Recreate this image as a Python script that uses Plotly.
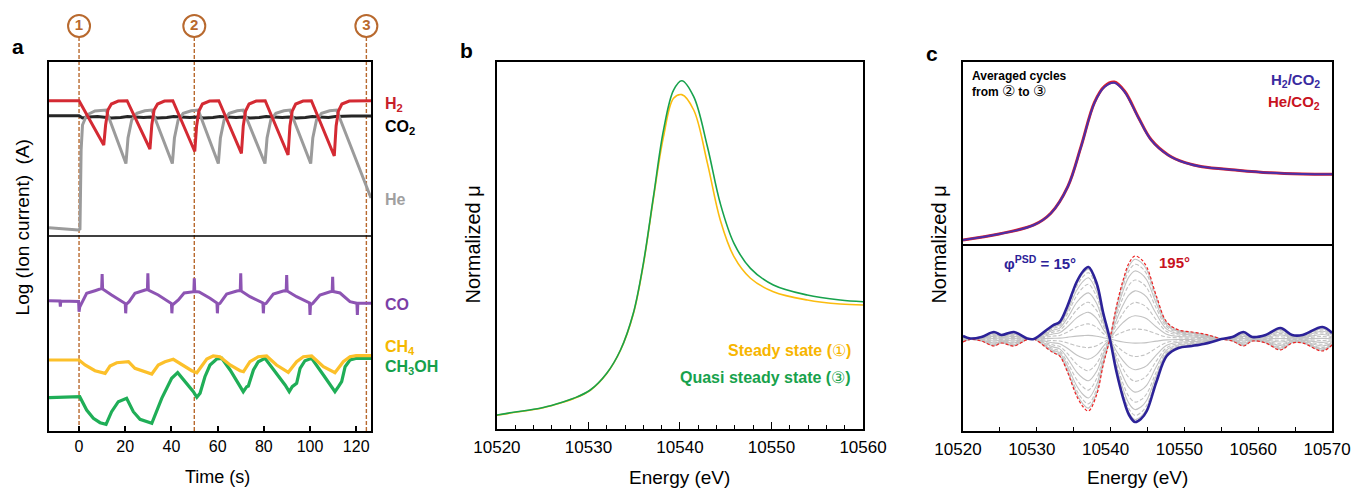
import plotly.graph_objects as go

FONT = "Arial, Liberation Sans, sans-serif"

# ---------------- panel a: ion currents (log scale, arbitrary offsets) ----------------
time_ticks = [0, 20, 40, 60, 80, 100, 120]
marker_times = [0, 49.9, 124.4]
marker_labels = ["1", "2", "3"]

h2_t = [-13, 0, 10.7, 11.5, 12.5, 14, 17, 20.8, 30.7, 31.5, 32.5, 34, 37, 40.6, 50.1, 50.9, 51.9,
        53.4, 56.5, 60.5, 70.3, 71.1, 72.1, 73.6, 76.7, 80.6, 90.5, 91.3, 92.3, 93.8, 97, 100.6,
        110.5, 111.3, 112.3, 113.8, 117, 126.4]
h2_v = [330.3, 330.3, 286, 306, 321, 327, 330, 330.3, 282, 306, 321, 327, 330, 330.3, 279.5, 305, 320,
        327, 330, 330.3, 277.7, 305, 320, 327, 330, 330.3, 276, 305, 320, 327, 330, 330.3,
        275, 305, 320, 327, 330, 330.3]

co2_t = [-13, 0, 1.5, 4, 8, 11, 14, 18, 21, 24, 28, 31, 34, 38, 41, 44, 48, 51, 54, 58, 61, 64, 68,
         71, 74, 78, 81, 84, 88, 91, 94, 98, 101, 104, 108, 111, 114, 118, 122, 126.4]
co2_v = [315.3, 315.3, 313, 314, 314.5, 314, 313, 313.5, 314.5, 314, 313.5, 314, 313, 313.5, 314.5,
         314, 313.5, 314, 313, 313.5, 314.5, 314, 313.5, 314, 313, 313.5, 314.5, 314, 313.5, 314,
         313, 313.5, 314.5, 314, 313.5, 314.5, 315, 315, 315, 315]

he_t = [-13, -0.3, 0.4, 0.9, 1.5, 3.3, 6.9, 11.7, 20.3, 21.2, 22.8, 25, 28.5, 31.5, 40.4, 41.3, 42.9,
        45.1, 48.6, 51.6, 60.3, 61.2, 62.8, 65, 68.5, 71.1, 80.5, 81.4, 83, 85.2, 88.7, 91.3,
        100.3, 101.2, 102.8, 105, 108.5, 111.5, 126.4]
he_v = [203.3, 201, 202, 281, 306, 316, 320, 321, 267.5, 293, 311, 317.7, 320.3, 321, 267.5, 293, 311,
        317.7, 320.3, 321, 267.5, 293, 311, 317.7, 320.3, 321, 267.5, 293, 311, 317.7, 320.3, 321,
        267.5, 293, 311, 317.7, 320.3, 321, 233]

co_t = [-13, -8.3, -8.1, -7.9, -0.2, 0, 0.3, 1.5, 3.3, 6.9, 9.8, 10, 10.2, 14.1, 18.5, 20, 20.2, 20.4,
        21.7, 24.2, 28.6, 29.6, 29.8, 30, 34.3, 38.7, 40, 40.2, 40.4, 43, 45.5, 49.7, 49.9, 50.1,
        52, 56.7, 58.9, 59.7, 59.9, 60.1, 61, 63.9, 68.3, 69.8, 70, 70.2, 74, 78.4, 79.6, 79.8, 80,
        81, 84.1, 88.4, 89.7, 89.9, 90.1, 94.2, 98.5, 99.8, 100, 100.2, 101.2, 104.3, 108.7, 109.6,
        109.8, 110, 113, 117.3, 120.3, 120.5, 120.7, 126.4]
co_v = [130.3, 130, 124.3, 130, 129.5, 119.3, 124, 130, 137.7, 140.3, 142.5, 157, 142, 136, 129.3,
        127.5, 117.7, 126.5, 129.3, 137.7, 141, 141.5, 157.7, 141, 136, 129.3, 127.5, 117.7, 126,
        131, 138, 139.3, 152.7, 139.5, 139, 132.7, 129.3, 128, 117.7, 126.5, 127.7, 137, 140, 140.5,
        157.7, 140, 134.3, 129.3, 128, 117.7, 126.5, 127.7, 137, 140, 140.5, 156, 140, 134.3, 129.3,
        128, 116, 126, 127.7, 136, 139.3, 139.5, 154.3, 139.5, 138, 129.3, 127.7, 116, 127.7, 127.7]

ch4_t = [-13, 0, 2.6, 6.9, 11.3, 13.4, 16.3, 21.4, 24.2, 28.6, 31.5, 34.3, 37.2, 40.8, 44.5, 48.8,
         51, 53.5, 55.3, 58.1, 61, 65.4, 69.7, 71.2, 74, 77.6, 81.2, 85.5, 90.6, 94.2, 97.1, 100.7,
         105.8, 110.8, 114.4, 117.3, 120, 126.4]
ch4_v = [71, 71, 66, 60.3, 57.7, 65, 68.3, 69.3, 62.7, 59.3, 57, 66, 69.3, 71.7, 66, 60.3,
         58.3, 66, 72, 75, 74.3, 66, 60.3, 59.3, 69.3, 74.3, 75, 66, 58.7, 69.3, 74.3, 75,
         64.3, 58.3, 69.3, 74.3, 75.3, 75.3]

ch3oh_t = [-13, 0.3, 3.3, 6.2, 9.1, 11.7, 14.1, 17, 20.6, 23.5, 26.4, 31.5, 35.8, 40.1, 42.7, 45.9,
           49.5, 51, 52.4, 54.5, 56.7, 59.6, 61.8, 65.4, 69, 71.1, 72.6, 73.3, 75.5, 77.6, 80.5,
           85.6, 89.2, 91, 92.3, 94.2, 95.7, 97.8, 100.7, 105.8, 109.4, 110.8, 112.3, 113.7, 115.2,
           117.3, 120.2, 126.4]
ch3oh_v = [33.3, 34.3, 21, 12.7, 8.3, 6.7, 19.3, 29.3, 32.7, 19.3, 11.7, 7.7, 32.7, 52.7, 58.3, 49.3,
           39.3, 33.7, 37.7, 54.3, 66, 72, 72.7, 61, 47.7, 39.3, 44.3, 45, 61, 69.3, 72.7,
           57.7, 46, 39.3, 44.3, 47.7, 62.7, 70.3, 72.7, 56, 44.3, 39.3, 44.3, 49.3, 64.3,
           71, 72.7, 72.7]

# ---------------- panel b: XANES, steady vs quasi steady state ----------------
energy_b = [10520, 10522, 10524.7, 10526.5, 10528.4, 10530.2, 10532, 10533.5, 10534.9, 10536,
            10537.1, 10538.2, 10539.3, 10540.2, 10541.5, 10543, 10544.4, 10545.9, 10547.7,
            10550.2, 10553.9, 10557.5, 10560]
mu_quasi = [0.110, 0.134, 0.163, 0.197, 0.242, 0.307, 0.439, 0.622, 0.911, 1.305, 1.829, 2.354,
            2.669, 2.743, 2.617, 2.223, 1.777, 1.462, 1.265, 1.134, 1.055, 1.016, 1.002]
mu_steady = [0.108, 0.132, 0.161, 0.195, 0.240, 0.305, 0.437, 0.620, 0.905, 1.295, 1.817, 2.302,
             2.604, 2.633, 2.512, 2.092, 1.646, 1.357, 1.187, 1.081, 1.016, 0.984, 0.976]

# ---------------- panel c: averaged cycles + phase-resolved spectra ----------------
energy_c = [10520, 10524.9, 10529.6, 10531.9, 10534.2, 10536, 10537.8, 10539.2, 10540.5, 10541.9,
            10543.7, 10545.5, 10547.8, 10550.1, 10552.4, 10556.9, 10561.5, 10566, 10570]
mu_h2 = [0.086, 0.171, 0.300, 0.467, 0.847, 1.419, 2.043, 2.276, 2.333, 2.204, 1.847, 1.514, 1.300,
         1.190, 1.133, 1.086, 1.047, 1.029, 1.024]
mu_he = [0.086, 0.172, 0.301, 0.469, 0.850, 1.424, 2.050, 2.285, 2.343, 2.212, 1.852, 1.518, 1.302,
         1.191, 1.134, 1.087, 1.048, 1.030, 1.025]

energy_psd = [10520, 10521, 10522.5, 10524.2, 10525.2, 10526.9, 10528.7, 10529.6, 10531.5, 10532.3,
              10533.1, 10534.1, 10535.4, 10536.3, 10537.0, 10538.1, 10539.0, 10539.9, 10540.8,
              10541.7, 10542.5, 10543.3, 10544.1, 10544.9, 10546.2, 10547.6, 10549.2, 10551,
              10552.6, 10553.7, 10555, 10556.5, 10558, 10559.2, 10561, 10563, 10564.6, 10566,
              10568.7, 10570]
psd_15 = [3, 0.5, 2, 7, 4, 7, 0.5, 0, 10, 14, 17, 32, 57, 68, 72, 56, 26, 0, -33, -59, -76, -83, -80,
          -72, -43, -17, -9, -7, -5, -3, 0, 2, 7, 2, 4, 11, 4, 4, 12, 6]
# amplitude of each intermediate phase relative to the 15 deg spectrum
psd_scale = [0.97, 0.92, 0.85, 0.76, 0.64, 0.51, 0.37, 0.21, 0.05, -0.12, -0.28, -0.44, -0.58,
             -0.71, -0.82, -0.90, -0.96]
psd_195_scale = -1.0

RED = "#d42a33"
GRAY = "#9b9b9b"
PURPLE = "#8d54b3"
YELLOW = "#fcc02a"
GREEN = "#1fae57"
BROWN = "#b8692e"
NAVY = "#2c2298"

fig = go.Figure()


def line(x, y, color, width, axis, dash="solid", shape="linear"):
    xa, ya = axis
    fig.add_trace(go.Scatter(x=x, y=y, mode="lines", xaxis=xa, yaxis=ya, hoverinfo="skip",
                             line=dict(color=color, width=width, dash=dash, shape=shape)))


# panel a
line(co2_t, co2_v, "#262626", 3, ("x", "y"))
line(he_t, he_v, GRAY, 3, ("x", "y"))
line(h2_t, h2_v, RED, 3, ("x", "y"))
line(co_t, co_v, PURPLE, 3, ("x", "y"))
line(ch3oh_t, ch3oh_v, GREEN, 3.2, ("x", "y"))
line(ch4_t, ch4_v, YELLOW, 3.2, ("x", "y"))

# circled step labels above panel a (own strip axis sharing the time axis)
fig.add_trace(go.Scatter(
    x=marker_times, y=[0.5] * len(marker_times), mode="markers+text",
    text=[f"<b>{s}</b>" for s in marker_labels], textposition="middle center",
    textfont=dict(family=FONT, size=15, color=BROWN), cliponaxis=False, hoverinfo="skip",
    marker=dict(symbol="circle", size=22, color="white", line=dict(color=BROWN, width=2)),
    xaxis="x", yaxis="y5"))

# panel b
line(energy_b, mu_steady, "#fbbc0f", 1.6, ("x2", "y2"), shape="spline")
line(energy_b, mu_quasi, "#17a24c", 1.6, ("x2", "y2"), shape="spline")

# panel c top
line(energy_c, mu_he, "#e0202a", 3, ("x3", "y3"), shape="spline")
line(energy_c, mu_h2, "#4b2fa8", 2, ("x3", "y3"), shape="spline")

# panel c bottom
for i, k in enumerate(psd_scale):
    line(energy_psd, [k * v for v in psd_15], "#c2c2c2", 1.1, ("x4", "y4"),
         dash="solid" if i % 2 == 0 else "4px,2px", shape="spline")
line(energy_psd, [psd_195_scale * v for v in psd_15], "#ee2222", 1.2, ("x4", "y4"),
     dash="3px,2px", shape="spline")
line(energy_psd, psd_15, NAVY, 2.6, ("x4", "y4"), shape="spline")

frame = dict(showline=True, linecolor="black", linewidth=1.5, mirror=True, showgrid=False,
             zeroline=False, automargin=False)
tickfont = dict(family=FONT, size=16, color="black")
no_ticks = dict(ticks="", showticklabels=False)

fig.update_layout(
    width=1354, height=491, margin=dict(l=0, r=0, t=0, b=0, autoexpand=False),
    paper_bgcolor="white", plot_bgcolor="white", showlegend=False,
    font=dict(family=FONT, color="black"),
    xaxis=dict(domain=[0.0362, 0.274], anchor="y", range=[-13, 126.4], tickvals=time_ticks,
               ticks="inside", ticklen=5, tickwidth=1.5, tickcolor="black", tickfont=tickfont,
               **frame),
    yaxis=dict(domain=[0.1222, 0.8737], anchor="x", range=[0, 369], **no_ticks, **frame),
    yaxis5=dict(domain=[0.9246, 0.9695], anchor="x", range=[0, 1], visible=False),
    xaxis2=dict(domain=[0.367, 0.6374], anchor="y2", range=[10520, 10560], dtick=10,
                tickformat="d", ticks="inside", ticklen=7, tickwidth=1.2, tickcolor="black",
                minor=dict(dtick=2, ticks="inside", ticklen=4, tickcolor="black"),
                ticklabeloverflow="allow", ticklabelstandoff=2,
                tickfont=dict(family=FONT, size=17, color="black"), **frame),
    yaxis2=dict(domain=[0.1263, 0.8737], anchor="x2", range=[0, 2.89], **no_ticks, **frame),
    xaxis3=dict(domain=[0.7112, 0.9838], anchor="y3", range=[10520, 10570], side="top",
                showline=True, mirror=False, linecolor="black", linewidth=1.5, showgrid=False,
                zeroline=False, automargin=False, **no_ticks),
    yaxis3=dict(domain=[0.499, 0.8737], anchor="x3", range=[0, 2.63], **no_ticks, **frame),
    xaxis4=dict(domain=[0.7112, 0.9838], anchor="y4", range=[10520, 10570], dtick=10,
                tickformat="d", ticks="inside", ticklen=4, tickwidth=1.2, tickcolor="black",
                minor=dict(dtick=5, ticks="inside", ticklen=4, tickcolor="black"),
                ticklabeloverflow="allow", ticklabelshift=-5, ticklabelstandoff=2,
                tickfont=dict(family=FONT, size=17, color="black"), **frame),
    yaxis4=dict(domain=[0.1222, 0.499], anchor="x4", range=[-92, 93], **no_ticks, **frame),
)

shapes = [dict(type="line", xref="paper", yref="y", x0=0.0362, x1=0.274, y0=195, y1=195,
               line=dict(color="black", width=1.5))]
for t in marker_times:
    shapes.append(dict(type="line", xref="x", yref="paper", x0=t, x1=t, y0=0.1222, y1=0.9246,
                       line=dict(color=BROWN, width=1.4, dash="4px,2px"), layer="below"))
fig.update_layout(shapes=shapes)


def text(s, x, y, size, color="black", xanchor="center", yanchor="middle", angle=0, align="center"):
    fig.add_annotation(text=s, x=x, y=y, xref="paper", yref="paper", showarrow=False,
                       xanchor=xanchor, yanchor=yanchor, textangle=angle, align=align,
                       font=dict(family=FONT, size=size, color=color))


# panel letters
text("<b>a</b>", 0.0133, 0.906, 21)
text("<b>b</b>", 0.3449, 0.898, 21)
text("<b>c</b>", 0.6883, 0.892, 21)

# axis titles
text("Log (Ion current)  (A)", 0.0163, 0.537, 19, angle=-90)
text("Time (s)", 0.1603, 0.0285, 18)
text("Normalized μ", 0.3493, 0.502, 20, angle=-90)
text("Energy (eV)", 0.5022, 0.0265, 19)
text("Normalized μ", 0.6928, 0.502, 20, angle=-90)
text("Energy (eV)", 0.8401, 0.0265, 19)

# panel a series labels
lx = 0.2829
text("<b>H<sub>2</sub></b>", lx, 0.788, 16, "#c8202a", xanchor="left")
text("<b>CO<sub>2</sub></b>", lx, 0.741, 16, "black", xanchor="left")
text("<b>He</b>", lx, 0.593, 16, "#a0a0a0", xanchor="left")
text("<b>CO</b>", lx, 0.379, 16, "#7b3fa6", xanchor="left")
text("<b>CH<sub>4</sub></b>", lx, 0.292, 16, "#f5b800", xanchor="left")
text("<b>CH<sub>3</sub>OH</b>", lx, 0.252, 16, "#15a04a", xanchor="left")

# panel b legend
text("<b>Steady state (</b>①<b>)</b>", 0.630, 0.287, 16, "#f7b500", xanchor="right")
text("<b>Quasi steady state (</b>③<b>)</b>", 0.630, 0.232, 16, "#17a24c", xanchor="right")

# panel c labels
circ = '<span style="font-size:15px">{}</span>'
text("<b>Averaged cycles</b><br><b>from </b>" + circ.format("②") + "<b> to </b>" + circ.format("③"),
     0.7164, 0.864, 12, xanchor="left", yanchor="top", align="left")
text("<b>H<sub>2</sub>/CO<sub>2</sub></b>", 0.9764, 0.837, 15, "#3a2aa0", xanchor="right")
text("<b>He/CO<sub>2</sub></b>", 0.9764, 0.791, 15, "#c8121e", xanchor="right")
text("<b>φ<sup>PSD</sup> = 15°</b>", 0.740, 0.4644, 15, NAVY, xanchor="left")
text("<b>195°</b>", 0.8545, 0.4644, 15, "#c8121e", xanchor="left")

fig.write_html("out.html", config={"displayModeBar": False},
               post_script="document.body.style.margin='0px';")
